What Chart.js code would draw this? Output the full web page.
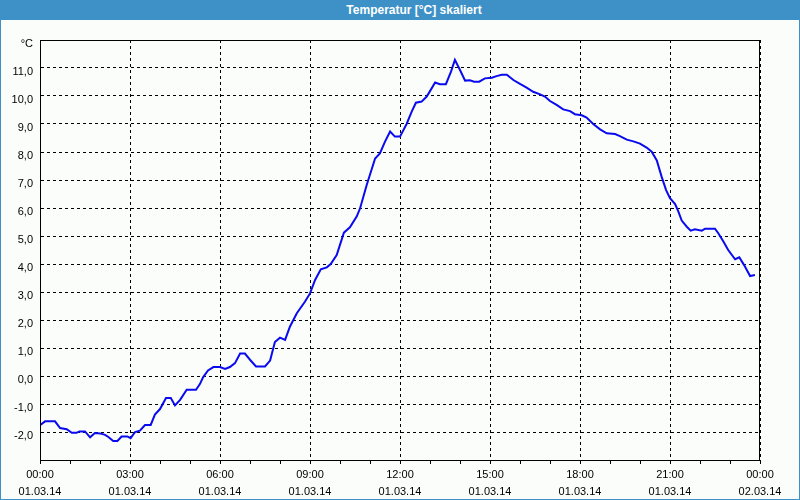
<!DOCTYPE html>
<html lang="de">
<head>
    <meta charset="UTF-8">
    <title>Temperatur [°C] skaliert</title>
    <script src="https://cdn.jsdelivr.net/npm/chart.js"></script>
    <style>
        html, body { margin: 0; padding: 0; }
        .frame {
            position: relative;
            width: 800px;
            height: 500px;
            box-sizing: border-box;
            border: 1px solid #3d91c7;
            border-top: none;
            background: #fbfdfb;
        }
        .title-bar {
            height: 20px;
            background: #3d91c7;
            color: #fff;
            font: bold 12px "Liberation Sans", Arial, sans-serif;
            line-height: 20px;
            padding-left: 28px;
            text-align: center;
            margin: 0 -1px;
        }
        .chart-wrapper {
            position: absolute;
            top: 20px;
            left: 0;
            width: 798px;
            height: 479px;
        }
    </style>
</head>
<body>
    <div class="frame">
        <div class="title-bar">Temperatur [°C] skaliert</div>
        <div class="chart-wrapper">
            <canvas id="tempChart"></canvas>
        </div>
    </div>

    <script>
        // Stunden seit 01.03.14 00:00
        const hours = [
            0.00, 0.17, 0.50, 0.67, 0.89, 1.06, 1.22, 1.31, 1.50, 1.67,
            1.83, 2.00, 2.17, 2.28, 2.44, 2.58, 2.72, 2.91, 3.02, 3.17,
            3.33, 3.50, 3.69, 3.83, 4.00, 4.20, 4.36, 4.50, 4.67, 4.89,
            5.20, 5.33, 5.44, 5.60, 5.78, 6.00, 6.17, 6.33, 6.50, 6.67,
            6.83, 7.00, 7.20, 7.50, 7.67, 7.83, 8.00, 8.17, 8.33, 8.56,
            8.83, 9.00, 9.17, 9.36, 9.56, 9.69, 9.89, 10.13, 10.33, 10.56,
            10.67, 10.89, 11.17, 11.33, 11.50, 11.67, 11.83, 12.00, 12.22, 12.39,
            12.53, 12.72, 12.89, 13.02, 13.17, 13.33, 13.53, 13.70, 13.83, 14.00,
            14.17, 14.33, 14.47, 14.64, 14.83, 15.06, 15.22, 15.39, 15.56, 15.78,
            16.00, 16.22, 16.44, 16.67, 16.83, 17.00, 17.22, 17.44, 17.67, 17.83,
            18.06, 18.22, 18.44, 18.67, 18.89, 19.17, 19.33, 19.56, 19.78, 20.00,
            20.22, 20.39, 20.56, 20.72, 20.87, 21.00, 21.17, 21.28, 21.39, 21.56,
            21.69, 21.83, 22.06, 22.17, 22.50, 22.61, 22.78, 22.94, 23.17, 23.31,
            23.47, 23.67, 23.83
        ];

        const temps = [
            -1.76, -1.62, -1.62, -1.86, -1.90, -2.03, -2.03, -1.98, -1.98, -2.19,
            -2.04, -2.05, -2.10, -2.18, -2.32, -2.32, -2.16, -2.16, -2.22, -2.00,
            -1.95, -1.75, -1.75, -1.38, -1.18, -0.79, -0.79, -1.05, -0.85, -0.49,
            -0.49, -0.29, -0.04, 0.20, 0.32, 0.32, 0.25, 0.32, 0.46, 0.80,
            0.80, 0.58, 0.34, 0.34, 0.55, 1.21, 1.37, 1.29, 1.76, 2.24,
            2.65, 2.95, 3.43, 3.81, 3.88, 4.00, 4.32, 5.12, 5.31, 5.70,
            5.99, 6.82, 7.77, 7.95, 8.37, 8.73, 8.55, 8.55, 9.00, 9.44,
            9.76, 9.80, 9.98, 10.21, 10.48, 10.42, 10.42, 10.87, 11.29, 10.93,
            10.55, 10.56, 10.51, 10.51, 10.63, 10.65, 10.71, 10.76, 10.76, 10.57,
            10.43, 10.30, 10.15, 10.06, 9.98, 9.82, 9.68, 9.52, 9.46, 9.35,
            9.31, 9.23, 9.00, 8.81, 8.67, 8.64, 8.57, 8.44, 8.38, 8.30,
            8.16, 8.01, 7.70, 7.12, 6.64, 6.35, 6.14, 5.87, 5.55, 5.33,
            5.19, 5.24, 5.19, 5.26, 5.26, 5.10, 4.80, 4.50, 4.17, 4.24,
            3.96, 3.57, 3.61
        ];

        const timeLabels = ['00:00', '03:00', '06:00', '09:00', '12:00', '15:00', '18:00', '21:00', '00:00'];
        const dateLabels = ['01.03.14', '01.03.14', '01.03.14', '01.03.14', '01.03.14', '01.03.14', '01.03.14', '01.03.14', '02.03.14'];

        const font = { family: '"Liberation Sans", Arial, sans-serif', size: 11 };

        // Rahmen um die Plotfläche
        const plotFrame = {
            id: 'plotFrame',
            afterDraw(chart) {
                const { ctx, chartArea: a } = chart;
                ctx.save();
                ctx.strokeStyle = '#000';
                ctx.lineWidth = 1;
                ctx.strokeRect(a.left + 0.5, a.top + 0.5, a.right - a.left - 1, a.bottom - a.top);
                ctx.restore();
            }
        };

        new Chart(document.getElementById('tempChart'), {
            type: 'line',
            data: {
                datasets: [{
                    data: hours.map((h, i) => ({ x: h, y: temps[i] })),
                    borderColor: '#0a0aee',
                    borderWidth: 2,
                    pointRadius: 0,
                    tension: 0,
                    fill: false
                }]
            },
            options: {
                responsive: true,
                maintainAspectRatio: false,
                animation: false,
                layout: { padding: { top: 20, right: 39, left: 0, bottom: 0 } },
                plugins: {
                    legend: { display: false },
                    tooltip: { enabled: false }
                },
                scales: {
                    x: {
                        type: 'linear',
                        min: 0,
                        max: 24,
                        afterFit: s => { s.height = 39; },
                        ticks: {
                            stepSize: 1,
                            autoSkip: false,
                            maxRotation: 0,
                            padding: 2,
                            color: '#000',
                            font: { ...font, lineHeight: 1.6 },
                            callback: v => v % 3 === 0 ? [timeLabels[v / 3], dateLabels[v / 3]] : ''
                        },
                        grid: {
                            color: c => c.tick && c.tick.value % 3 === 0 ? '#000' : 'rgba(0,0,0,0)',
                            tickColor: '#000',
                            tickLength: 4
                        },
                        border: { color: '#000', dash: [3, 3] }
                    },
                    y: {
                        min: -3,
                        max: 12,
                        afterFit: s => { s.width = 39; },
                        ticks: {
                            stepSize: 1,
                            padding: 7,
                            labelOffset: 4,
                            color: '#000',
                            font: font,
                            callback: v => v === 12 ? '°C' : v === -3 ? '' : v.toFixed(1).replace('.', ',')
                        },
                        grid: { color: '#000', drawTicks: false },
                        border: { color: '#000', dash: [3, 3] }
                    }
                }
            },
            plugins: [plotFrame]
        });
    </script>
</body>
</html>
